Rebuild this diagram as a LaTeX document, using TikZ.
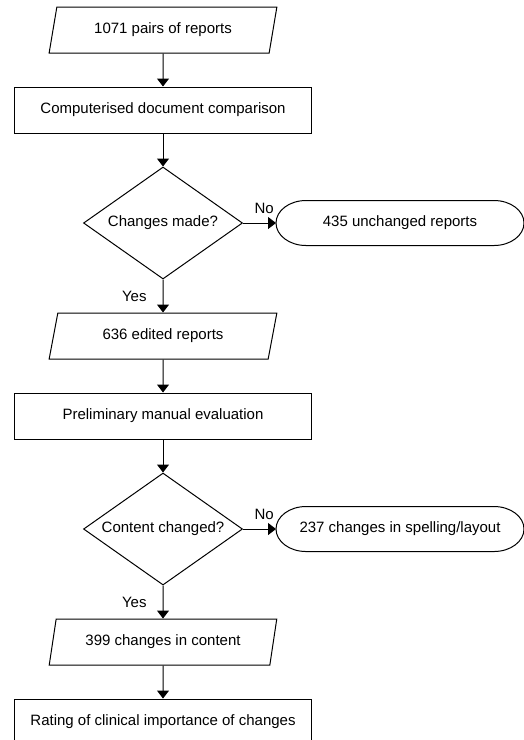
\documentclass[tikz,border=0pt]{standalone}
\usepackage{fontspec}
\setmainfont{Liberation Sans}
\usetikzlibrary{arrows.meta,positioning,shapes.geometric}
\newcommand{\flowfont}{\fontsize{15pt}{18pt}\selectfont}

\begin{document}
\begin{tikzpicture}[
  font=\flowfont,
  line width=1pt,
  node distance=33pt,
  box/.style={draw,minimum width=297pt,minimum height=46pt,inner sep=2pt},
  data/.style={draw,trapezium,trapezium left angle=74,trapezium right angle=106,
               trapezium stretches=true,minimum width=228pt,minimum height=46pt,inner sep=2pt},
  query/.style={draw,diamond,aspect=1.42,minimum width=159pt,minimum height=112pt,inner sep=0pt},
  term/.style={minimum width=248pt,minimum height=45pt,inner sep=0pt,outer sep=0pt},
  arr/.style={-{Triangle[length=8pt,width=12pt]}},
  lab/.style={inner sep=0pt}
]
\useasboundingbox (0,0) rectangle (524pt,-740pt);
% main column
\node[data] (pairs) at (163pt,-30pt) {1071 pairs of reports};
\node[box,below=of pairs] (cmp) {Computerised document comparison};
\node[query,below=of cmp] (chg) {Changes made?};
\node[data,below=of chg] (edited) {636 edited reports};
\node[box,below=of edited] (prelim) {Preliminary manual evaluation};
\node[query,below=of prelim] (cont) {Content changed?};
\node[data,below=of cont] (content) {399 changes in content};
\node[box,below=of content] (rating) {Rating of clinical importance of changes};

% side exits
\node[term,right=33pt of chg] (unch) {435 unchanged reports};
\node[term,right=33pt of cont] (spell) {237 changes in spelling/layout};
\foreach \t in {unch,spell}
  \draw ([xshift=30pt]\t.north west) -- ([xshift=-30pt]\t.north east)
    arc[start angle=90,end angle=-90,x radius=30pt,y radius=22.5pt]
    -- ([xshift=30pt]\t.south west)
    arc[start angle=270,end angle=90,x radius=30pt,y radius=22.5pt] -- cycle;

\draw[arr] (pairs) -- (cmp);
\draw[arr] (cmp) -- (chg);
\draw[arr] (chg) -- node[lab,above=9pt,pos=0.64]{No} (unch);
\draw[arr] (chg) -- node[lab,left=16pt,pos=0.5]{Yes} (edited);
\draw[arr] (edited) -- (prelim);
\draw[arr] (prelim) -- (cont);
\draw[arr] (cont) -- node[lab,above=9pt,pos=0.64]{No} (spell);
\draw[arr] (cont) -- node[lab,left=16pt,pos=0.5]{Yes} (content);
\draw[arr] (content) -- (rating);
\end{tikzpicture}
\end{document}
